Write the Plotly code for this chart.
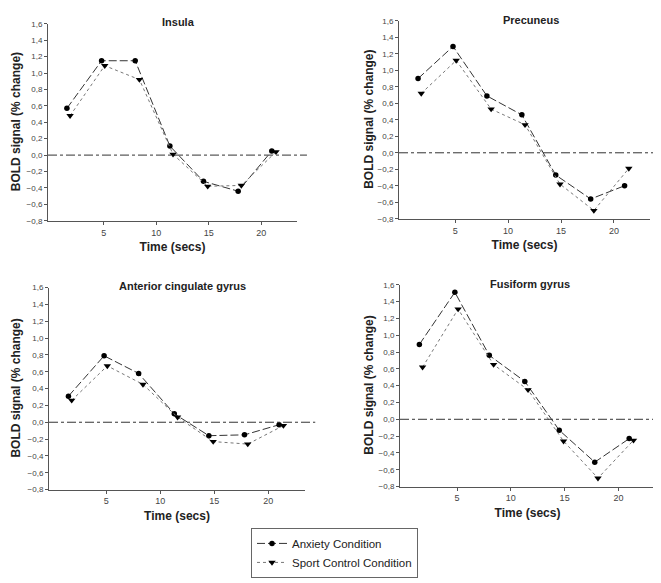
import plotly.graph_objects as go

# ---- data ----
regions = ["Insula", "Precuneus", "Anterior cingulate gyrus", "Fusiform gyrus"]
times_anxiety = [1.5, 4.8, 8.0, 11.3, 14.5, 17.8, 21.0]
times_sport = [1.8, 5.1, 8.4, 11.6, 14.9, 18.1, 21.4]

insula_anxiety = [0.57, 1.15, 1.15, 0.11, -0.32, -0.44, 0.05]
insula_sport = [0.48, 1.09, 0.92, 0.01, -0.38, -0.37, 0.04]
precuneus_anxiety = [0.90, 1.29, 0.69, 0.46, -0.27, -0.56, -0.40]
precuneus_sport = [0.72, 1.12, 0.53, 0.34, -0.38, -0.70, -0.19]
acg_anxiety = [0.31, 0.79, 0.58, 0.10, -0.16, -0.15, -0.03]
acg_sport = [0.26, 0.67, 0.45, 0.06, -0.23, -0.26, -0.04]
fusiform_anxiety = [0.89, 1.51, 0.76, 0.45, -0.13, -0.51, -0.23]
fusiform_sport = [0.62, 1.31, 0.65, 0.35, -0.26, -0.70, -0.25]

anxiety_series = [insula_anxiety, precuneus_anxiety, acg_anxiety, fusiform_anxiety]
sport_series = [insula_sport, precuneus_sport, acg_sport, fusiform_sport]

x_ticks = [5, 10, 15, 20]
y_ticks = [-0.8, -0.6, -0.4, -0.2, 0.0, 0.2, 0.4, 0.6, 0.8, 1.0, 1.2, 1.4, 1.6]

W, H = 661, 583
# panel boxes in pixels: (left, right, top, bottom)
boxes = [(40, 289, 12, 212), (391, 642, 9, 210), (41, 297, 280, 485), (392, 647, 277, 482)]
title_pos = [(170, 10), (523, 8), (175, 278), (522, 276)]
ytitle_x = [8, 361, 8, 361]

fig = go.Figure()
layout = dict(
    width=W, height=H, margin=dict(l=0, r=0, t=0, b=0),
    paper_bgcolor="white", plot_bgcolor="white",
    separators=", ",
    font=dict(family="Arial, Liberation Sans, sans-serif", color="#222"),
    showlegend=True,
    legend=dict(x=243 / W, y=1 - 524 / H, xanchor="left", yanchor="top",
                bordercolor="#666", borderwidth=1, bgcolor="white",
                font=dict(size=11.5, color="#222"), tracegroupgap=0,
                itemwidth=30, entrywidth=160),
)
annotations = []
shapes = []
for i, name in enumerate(regions):
    k = "" if i == 0 else str(i + 1)
    xa, ya = "x" + k, "y" + k
    l, r, t, b = boxes[i]
    fig.add_trace(go.Scatter(
        x=times_anxiety, y=anxiety_series[i], xaxis=xa, yaxis=ya,
        mode="lines+markers", name="Anxiety Condition", showlegend=(i == 0),
        line=dict(color="#333", width=1, dash="8px,3px"),
        marker=dict(symbol="circle", size=5.5, color="black")))
    fig.add_trace(go.Scatter(
        x=times_sport, y=sport_series[i], xaxis=xa, yaxis=ya,
        mode="lines+markers", name="Sport Control Condition", showlegend=(i == 0),
        line=dict(color="#777", width=1, dash="dot"),
        marker=dict(symbol="triangle-down", size=6.5, color="black")))
    layout["xaxis" + k] = dict(
        domain=[l / W, r / W], anchor=ya, range=[-0.3, 23.4],
        tickvals=x_ticks, ticks="outside", ticklen=3, tickcolor="#555",
        showline=True, linecolor="#555", linewidth=1, showgrid=False, zeroline=False,
        tickfont=dict(size=9, color="#444"),
        title=dict(text="<b>Time (secs)</b>", font=dict(size=12, color="#222"), standoff=6))
    layout["yaxis" + k] = dict(
        domain=[1 - b / H, 1 - t / H], anchor=xa, range=[-0.8, 1.6],
        tickvals=y_ticks, tickformat=".1f", ticks="outside", ticklen=3, tickcolor="#555",
        showline=True, linecolor="#555", linewidth=1, showgrid=False, zeroline=False,
        tickfont=dict(size=8, color="#444"))
    annotations.append(dict(
        text="<b>" + name + "</b>", x=title_pos[i][0] / W, y=1 - title_pos[i][1] / H,
        xref="paper", yref="paper", showarrow=False, xanchor="center", yanchor="middle",
        font=dict(size=11, color="#222")))
    annotations.append(dict(
        text="<b>BOLD signal (% change)</b>", x=ytitle_x[i] / W, y=1 - ((t + b) / 2) / H,
        xref="paper", yref="paper", showarrow=False, textangle=-90,
        xanchor="center", yanchor="middle", font=dict(size=12, color="#222")))
    shapes.append(dict(
        type="line", xref=xa + " domain", yref=ya, x0=0, x1=1.04, y0=0, y1=0,
        line=dict(color="#333", width=1, dash="dashdot")))

layout["annotations"] = annotations
layout["shapes"] = shapes
fig.update_layout(**layout)
fig.write_html("out.html")
